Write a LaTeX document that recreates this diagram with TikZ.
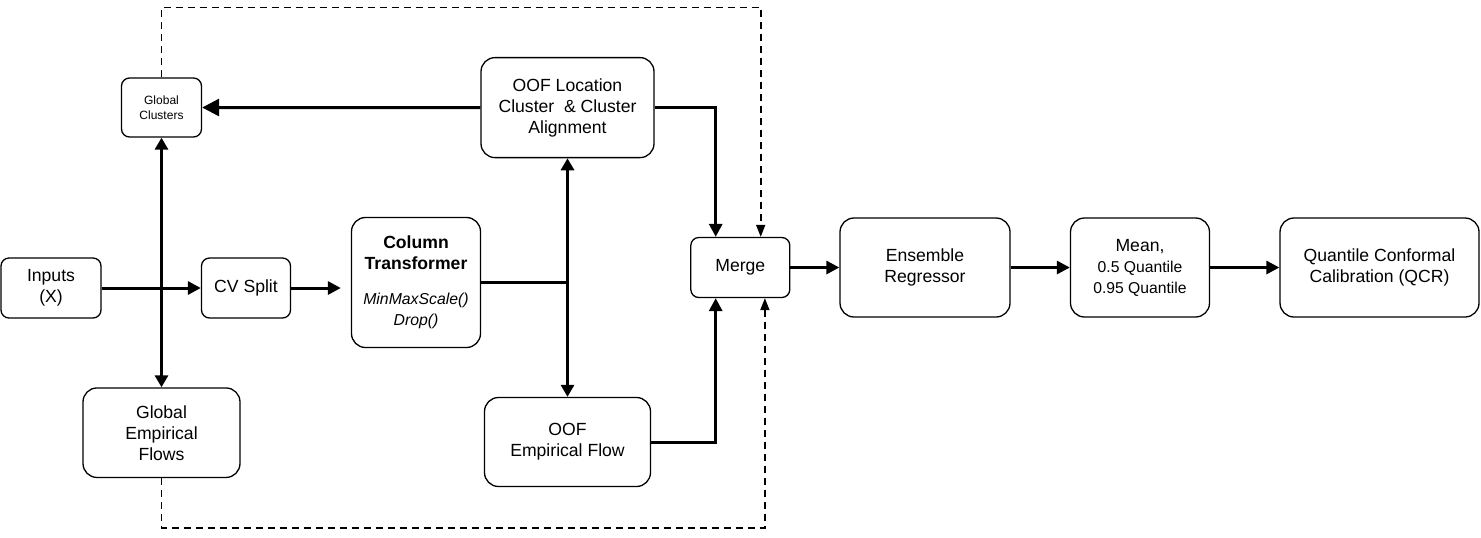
\documentclass[tikz,border=0pt]{standalone}
\usepackage{fontspec}
\setmainfont{Liberation Sans}
\usetikzlibrary{arrows.meta}

\begin{document}
\begin{tikzpicture}[x=0.5pt,y=-0.5pt,
box/.style={draw, line width=0.65pt, rounded corners=7pt, align=center, inner sep=0pt, font=\fontsize{8.8}{10.5}\selectfont},
smallbox/.style={box, rounded corners=4pt},
flow/.style={line width=1.5pt, -{Triangle[length=6.5pt,width=6.5pt]}},
twoway/.style={line width=1.5pt, {Triangle[length=6pt,width=6.5pt]}-{Triangle[length=6pt,width=6.5pt]}},
link/.style={line width=0.8pt, dash pattern=on 3.5pt off 2.5pt, -{Triangle[length=6pt,width=4.5pt]}}]
\useasboundingbox (0,0) rectangle (1481,537);

\node[smallbox, minimum width=50pt, minimum height=30pt] (inputs) at (51,288) {Inputs\\(X)};
\node[smallbox, minimum width=44.5pt, minimum height=30pt] (cvsplit) at (246,288) {CV Split};
\node[box, minimum width=64.5pt, minimum height=65pt] (coltrans) at (416,282.5)
{\textbf{Column}\\\textbf{Transformer}\\[7pt]{\fontsize{7.9}{9.7}\selectfont\itshape MinMaxScale()}\\{\fontsize{7.9}{9.7}\selectfont\itshape Drop()}};
\node[smallbox, minimum width=40pt, minimum height=29.5pt, font=\fontsize{6}{7.3}\selectfont] (gclusters) at (161.5,107.5) {Global\\Clusters};
\node[box, minimum width=78.5pt, minimum height=44.75pt] (gflows) at (161.5,432.7) {Global\\Empirical\\Flows};
\node[box, minimum width=86.5pt, minimum height=50pt] (oofloc) at (567.5,107.6) {OOF Location\\Cluster\ \ \& Cluster\\Alignment};
\node[box, minimum width=83pt, minimum height=44.5pt] (oofflow) at (567.5,442) {OOF\\Empirical Flow};
\node[smallbox, minimum width=49.5pt, minimum height=30pt] (merge) at (740.3,267.5) {Merge};
\node[box, minimum width=85pt, minimum height=49.5pt] (ensemble) at (925,267.5) {Ensemble\\Regressor};
\node[box, minimum width=69.5pt, minimum height=49.5pt] (mean) at (1140,267.5)
{Mean,\\{\fontsize{7.85}{9.5}\selectfont 0.5 Quantile}\\{\fontsize{7.85}{9.5}\selectfont 0.95 Quantile}};
\node[box, minimum width=99.5pt, minimum height=49.5pt] (qcr) at (1379.5,267.5) {Quantile Conformal\\Calibration (QCR)};

\coordinate (topcorner) at (161.5,7.5);
\coordinate (bottomcorner) at (161.5,528);

\draw[link] (gclusters.north) -- (topcorner) -| ([xshift=10.2pt]merge.north);
\draw[link] (gflows.south) -- (bottomcorner) -| ([xshift=12.3pt]merge.south);

\draw[flow] (inputs.east) -- (cvsplit.west);
\draw[twoway] (gclusters.south) -- (gflows.north);
\draw[flow, shorten >=5pt] (cvsplit.east) -- (cvsplit.east -| coltrans.west);
\draw[line width=1.5pt] (coltrans.east) -- (coltrans.east -| oofloc.south);
\draw[twoway] (oofloc.south) -- (oofflow.north);
\draw[line width=1.5pt, -{Triangle[length=8.5pt,width=8.5pt]}] (oofloc.west) -- (gclusters.east);
\draw[flow] (oofloc.east) -| ([xshift=-12.3pt]merge.north);
\draw[flow] (oofflow.east) -| ([xshift=-12.3pt]merge.south);
\draw[flow] (merge.east) -- (ensemble.west);
\draw[flow] (ensemble.east) -- (mean.west);
\draw[flow] (mean.east) -- (qcr.west);
\end{tikzpicture}
\end{document}
